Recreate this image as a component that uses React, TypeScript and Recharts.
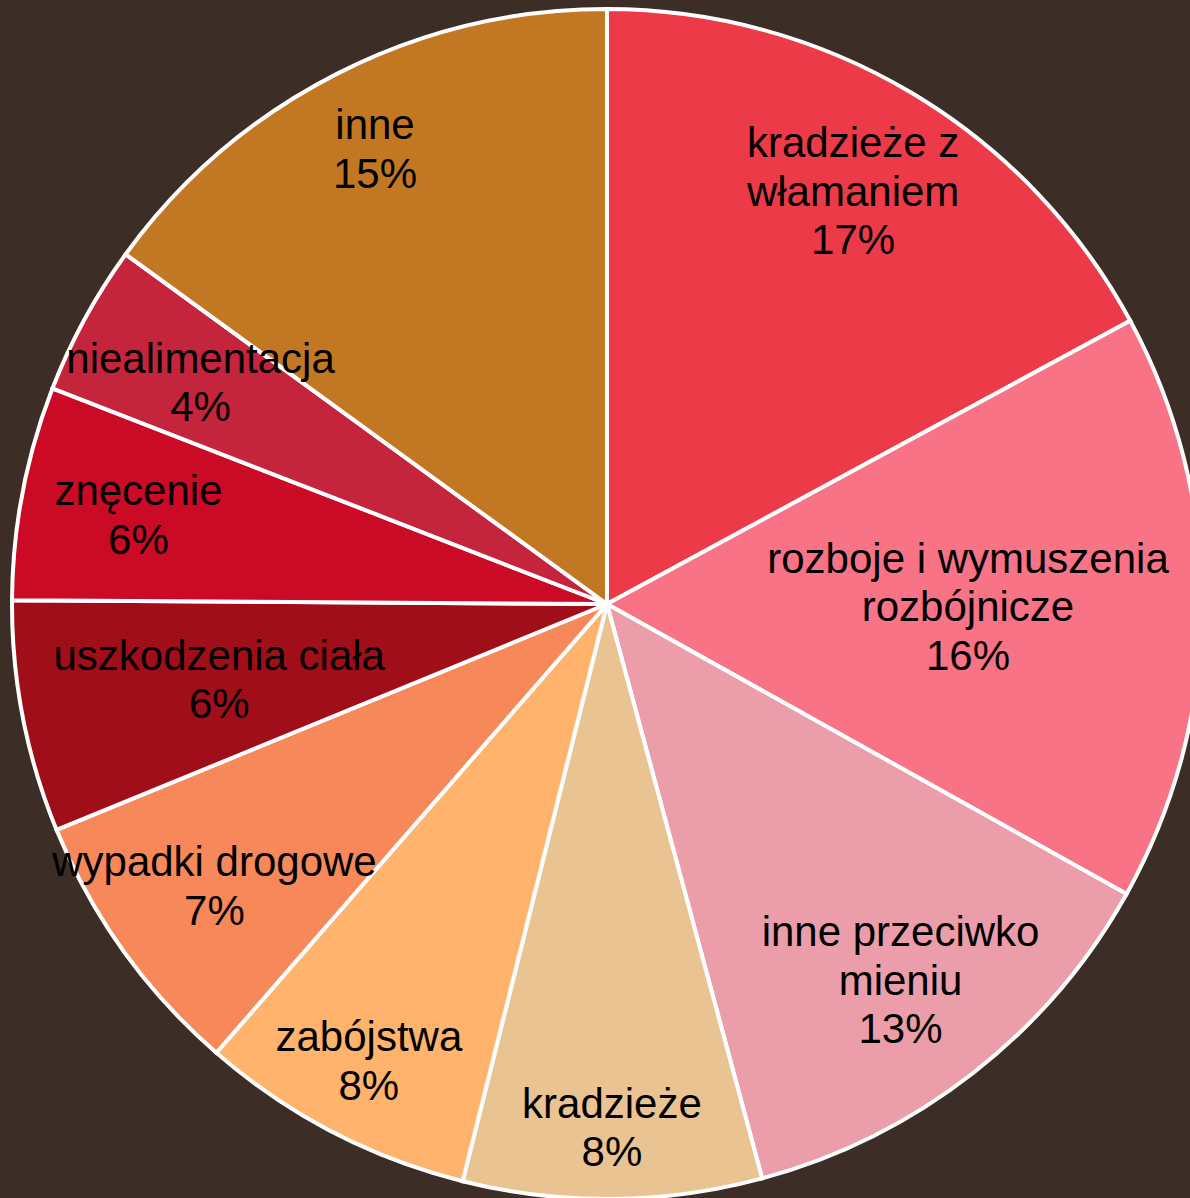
import React from 'react';
import { PieChart, Pie, Cell } from 'recharts';

// kategorie (kolejność zgodnie z ruchem wskazówek zegara od godziny 12)
const categories = [
  'kradzieże z\nwłamaniem',
  'rozboje i wymuszenia\nrozbójnicze',
  'inne przeciwko\nmieniu',
  'kradzieże',
  'zabójstwa',
  'wypadki drogowe',
  'uszkodzenia ciała',
  'znęcenie',
  'niealimentacja',
  'inne',
];

const values = [17.1, 16.0, 12.7, 8.1, 7.5, 7.4, 6.3, 5.8, 4.1, 15.0];

// etykiety procentowe jak na wykresie
const shareLabels = ['17%', '16%', '13%', '8%', '8%', '7%', '6%', '6%', '4%', '15%'];

const colors = [
  '#EC3A48',
  '#F97387',
  '#EB9EAA',
  '#EAC393',
  '#FFB36C',
  '#F7885A',
  '#A00E1A',
  '#CB0A25',
  '#C4253D',
  '#C27822',
];

// odległość środka etykiety od środka koła (px)
const labelRadius = [481, 361, 477, 523, 515, 483, 395, 477, 463, 511];

const W = 1190;
const H = 1198;
const FONT = 42;
const LINE = 48.5;

const data = categories.map((name, i) => ({ name, value: values[i] }));

const RADIAN = Math.PI / 180;

const renderLabel = (props: any) => {
  const { cx, cy, midAngle, index } = props;
  const r = labelRadius[index];
  const x = cx + r * Math.cos(-midAngle * RADIAN);
  const y = cy + r * Math.sin(-midAngle * RADIAN);
  const lines = [...categories[index].split('\n'), shareLabels[index]];
  const top = y - ((lines.length - 1) * LINE) / 2;
  return (
    <text
      x={x}
      y={top}
      textAnchor="middle"
      dominantBaseline="central"
      fill="#000"
      fontSize={FONT}
      fontFamily="'Liberation Sans', Arial, sans-serif"
    >
      {lines.map((l, i) => (
        <tspan key={i} x={x} y={top + i * LINE}>
          {l}
        </tspan>
      ))}
    </text>
  );
};

export default function App() {
  return (
    <div
      style={{
        position: 'absolute',
        left: 0,
        top: 0,
        width: W,
        height: H,
        background: '#3C2D26',
        overflow: 'hidden',
      }}
    >
      <PieChart width={W} height={H} margin={{ top: 0, right: 0, bottom: 0, left: 0 }}>
        <Pie
          data={data}
          dataKey="value"
          nameKey="name"
          cx={607}
          cy={604}
          outerRadius={595}
          startAngle={90}
          endAngle={-270}
          stroke="#FFFFFF"
          strokeWidth={4}
          label={renderLabel}
          labelLine={false}
          isAnimationActive={false}
        >
          {data.map((d, i) => (
            <Cell key={d.name} fill={colors[i]} />
          ))}
        </Pie>
      </PieChart>
    </div>
  );
}
